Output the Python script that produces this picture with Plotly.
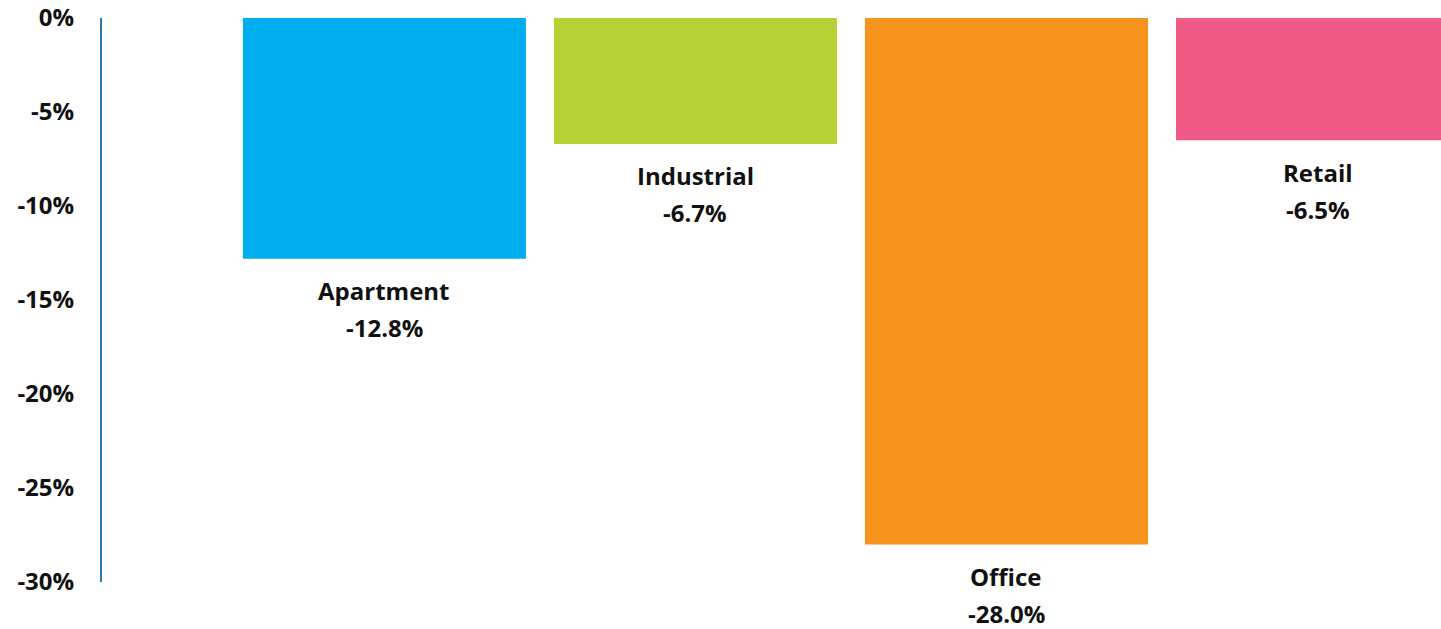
import plotly.graph_objects as go

categories = ["Apartment", "Industrial", "Office", "Retail"]
values = [-12.8, -6.7, -28.0, -6.5]
colors = ["#00AEEF", "#B5D334", "#F7941E", "#EF5B86"]
tick_vals = [0, -5, -10, -15, -20, -25, -30]
tick_text = ["0%", "-5%", "-10%", "-15%", "-20%", "-25%", "-30%"]

FONT = "Open Sans"

fig = go.Figure()
fig.add_trace(go.Bar(
    x=categories, y=values, marker=dict(color=colors, line=dict(width=0)),
    hoverinfo="skip", showlegend=False,
))

annotations = []
for c, v in zip(categories, values):
    annotations.append(dict(x=c, y=v, xref="x", yref="y", text=f"<b>{c}</b>",
                            showarrow=False, yanchor="middle", yshift=-32,
                            font=dict(family=FONT, size=24, color="#111111")))
    annotations.append(dict(x=c, y=v, xref="x", yref="y", text=f"<b>{v:.1f}%</b>",
                            showarrow=False, yanchor="middle", yshift=-69,
                            font=dict(family=FONT, size=24, color="#111111")))

fig.update_layout(
    width=1441, height=629,
    margin=dict(l=102, r=0, t=18, b=47),
    paper_bgcolor="white", plot_bgcolor="white",
    bargap=0.09,
    annotations=annotations,
    xaxis=dict(range=[-0.908, 3.397], showticklabels=False, showgrid=False,
               zeroline=False, showline=False, ticks=""),
    yaxis=dict(range=[-30, 0], tickvals=tick_vals,
               ticktext=[f"<b>{t}</b>" for t in tick_text],
               showgrid=False, zeroline=False, showline=True,
               linecolor="#2A78B0", linewidth=2, ticks="",
               ticklabelstandoff=21,
               tickfont=dict(family=FONT, size=24, color="#111111")),
    font=dict(family=FONT, color="#111111"),
)

fig.write_html("out.html")
